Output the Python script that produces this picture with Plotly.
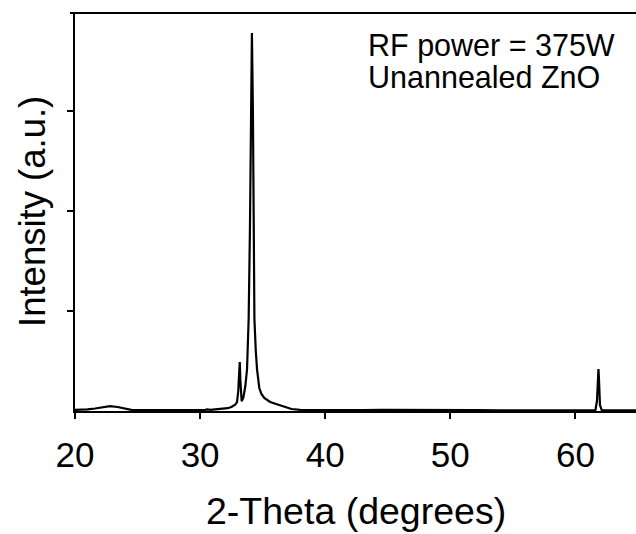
import plotly.graph_objects as go

# 2-theta (degrees) and intensity (a.u.)
two_theta = [20.0, 20.5, 21.0, 21.6, 22.2, 22.8, 23.4, 24.0, 24.5, 25.0, 26.0, 27.0, 28.0,
             29.0, 30.0, 30.4, 30.6, 30.8, 31.1, 31.5, 31.9, 32.2, 32.5, 32.8, 32.95,
             33.05, 33.12, 33.17, 33.22, 33.28, 33.32, 33.45, 33.61, 33.75, 33.88, 33.98,
             34.06, 34.14, 34.22, 34.28, 34.34, 34.45, 34.55, 34.73, 34.9, 35.13, 35.6,
             36.2, 36.8, 37.3, 38.0, 39.0, 41.0, 43.0, 44.5, 46.0, 48.0, 50.0, 52.0,
             54.0, 56.0, 58.0, 60.0, 61.0, 61.6, 61.72, 61.8, 61.84, 61.88, 61.96, 62.1,
             62.5, 63.0, 64.0, 65.0]
intensity = [0.012, 0.013, 0.016, 0.025, 0.040, 0.048, 0.040, 0.022, 0.012, 0.009, 0.008, 0.008, 0.008,
             0.008, 0.009, 0.012, 0.016, 0.012, 0.014, 0.016, 0.020, 0.028, 0.040, 0.062, 0.090,
             0.20, 0.38, 0.49, 0.30, 0.14, 0.098, 0.13, 0.245, 0.415, 0.92, 1.80,
             3.00, 3.78, 3.00, 1.80, 0.92, 0.60, 0.415, 0.23, 0.17, 0.13, 0.09,
             0.065, 0.040, 0.020, 0.012, 0.010, 0.009, 0.009, 0.011, 0.009, 0.008, 0.008, 0.008,
             0.007, 0.007, 0.007, 0.007, 0.007, 0.010, 0.10, 0.32, 0.42, 0.32, 0.06, 0.010,
             0.008, 0.008, 0.007, 0.007]

x_ticks = [20, 30, 40, 50, 60]
y_ticks = [1, 2, 3]
x_range = [20, 64.84]
y_range = [0, 3.98]

FONT = "Liberation Sans, Arial, Helvetica, sans-serif"

fig = go.Figure()
fig.add_trace(go.Scatter(x=two_theta, y=intensity, mode="lines",
                         line=dict(color="black", width=2.2), showlegend=False,
                         hoverinfo="skip"))

fig.update_layout(
    width=636, height=534,
    margin=dict(l=75, r=0, t=13, b=123),
    paper_bgcolor="white", plot_bgcolor="white",
    font=dict(family=FONT, color="black"),
    xaxis=dict(range=x_range, tickvals=x_ticks, ticks="outside", ticklen=6, tickwidth=2,
               tickcolor="black", showline=True, linecolor="black", linewidth=2,
               showgrid=False, zeroline=False, tickfont=dict(size=35, family=FONT),
               ticklabelstandoff=6),
    yaxis=dict(range=y_range, tickvals=y_ticks, ticks="outside", ticklen=6, tickwidth=2,
               tickcolor="black", showline=True, linecolor="black", linewidth=2,
               showgrid=False, zeroline=False, showticklabels=False),
    shapes=[dict(type="line", xref="paper", yref="paper", x0=-0.009, x1=1, y0=1, y1=1,
                 line=dict(color="black", width=2))],
    annotations=[
        dict(text="RF power = 375W", xref="paper", yref="paper", x=0.519, y=(411 - 46) / 398,
             xanchor="left", yanchor="middle", showarrow=False, font=dict(size=30.5, family=FONT)),
        dict(text="Unannealed ZnO", xref="paper", yref="paper", x=0.519, y=(411 - 77) / 398,
             xanchor="left", yanchor="middle", showarrow=False, font=dict(size=30.5, family=FONT)),
        dict(text="Intensity (a.u.)", xref="paper", yref="paper", x=(32 - 75) / 561, y=0.5,
             xanchor="center", yanchor="middle", textangle=-90, showarrow=False,
             font=dict(size=36.5, family=FONT)),
        dict(text="2-Theta (degrees)", xref="paper", yref="paper", x=0.501, y=(411 - 511) / 398,
             xanchor="center", yanchor="middle", showarrow=False, font=dict(size=37.5, family=FONT)),
    ],
)

fig.write_html("out.html")
